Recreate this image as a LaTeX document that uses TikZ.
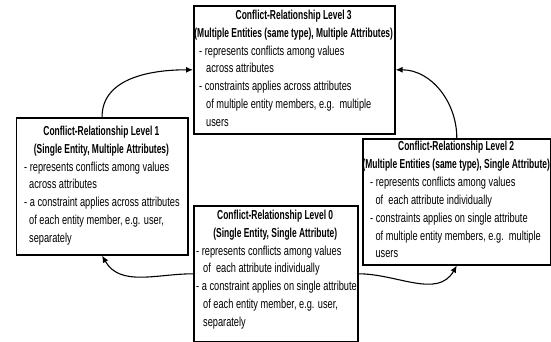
\documentclass[tikz,border=0pt]{standalone}
\usepackage{fontspec}
\setmainfont{Liberation Sans}
\newfontfamily\bodyfont{Liberation Sans}[FakeStretch=0.71]
\newfontfamily\titlefont{Liberation Sans}[FakeStretch=0.65]
\usetikzlibrary{arrows.meta}
\tikzset{
  box/.style={draw=black, line width=1.6pt, fill=white, inner sep=0pt, anchor=north west},
  txt/.style={inner sep=0pt, anchor=north west, align=none,
    font=\bodyfont\fontsize{13}{17.9}\selectfont},
  arr/.style={line width=1.1pt, -{Latex[length=7pt,width=6pt]}},
}
\newcommand{\ttl}[2]{{\centering\titlefont\bfseries\strut #1\\#2\par}}
\begin{document}
\begin{tikzpicture}[x=1pt,y=-1pt]
\useasboundingbox[fill=white] (0,0) rectangle (551,342);

% boxes
\node[box, minimum width=201pt, minimum height=128pt] (L3) at (193,5) {};
\node[box, minimum width=171.5pt, minimum height=137pt] (L1) at (15.5,117) {};
\node[box, minimum width=188pt, minimum height=126pt] (L2) at (362,138) {};
\node[box, minimum width=164pt, minimum height=136pt] (L0) at (193,205) {};

% texts
\node[txt, text width=201pt] (L3t) at ([yshift=-1.5pt]L3.north west) {\parindent=0pt
\ttl{Conflict-Relationship Level 3}{(Multiple Entities (same type), Multiple Attributes)}
\raggedright
\hspace*{6pt}- represents conflicts among values\\
\hspace*{13pt}across attributes\\
\hspace*{6pt}- constraints applies across attributes\\
\hspace*{13pt}of multiple entity members, e.g.\ \ multiple\\
\hspace*{13pt}users};

\node[txt, text width=171.5pt] (L1t) at ([yshift=-5.5pt]L1.north west) {\parindent=0pt
\ttl{Conflict-Relationship Level 1}{(Single Entity, Multiple Attributes)}
\raggedright
\hspace*{8.5pt}- represents conflicts among values\\
\hspace*{13.5pt}across attributes\\
\hspace*{8.5pt}- a constraint applies across attributes\\
\hspace*{13.5pt}of each entity member, e.g. user,\\
\hspace*{13.5pt}separately};

\node[txt, text width=188pt] (L2t) at ([yshift=0.2pt]L2.north west) {\parindent=0pt
\ttl{Conflict-Relationship Level 2}{(Multiple Entities (same type), Single Attribute)}
\raggedright
\hspace*{8pt}- represents conflicts among values\\
\hspace*{13.4pt}of\ \ each attribute individually\\
\hspace*{8pt}- constraints applies on single attribute\\
\hspace*{13.4pt}of multiple entity members, e.g.\ \ multiple\\
\hspace*{13.4pt}users};

\node[txt, text width=164pt] (L0t) at ([yshift=-1.5pt]L0.north west) {\parindent=0pt
\ttl{Conflict-Relationship Level 0}{(Single Entity, Single Attribute)}
\raggedright
\hspace*{3pt}- represents conflicts among values\\
\hspace*{10pt}of\ \ each attribute individually\\
\hspace*{3pt}- a constraint applies on single attribute\\
\hspace*{10pt}of each entity member, e.g. user,\\
\hspace*{10pt}separately};

% connectors
\draw[arr] (L1.north) to[out=90,in=180] (L3.west);
\draw[arr] (L2.north) to[out=90,in=0] (L3.east);
\draw[arr] (L0.west) to[out=180,in=-60] (L1.south);
\draw[arr] (L0.east) to[out=0,in=240] (L2.south);
\end{tikzpicture}
\end{document}
